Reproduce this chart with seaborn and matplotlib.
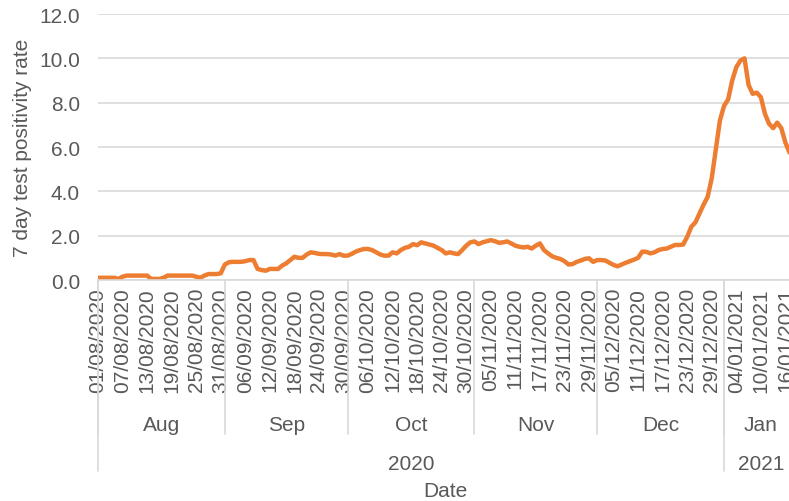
import seaborn as sns
import matplotlib.pyplot as plt
import matplotlib.transforms as mtransforms
import pandas as pd

sns.set_style(style="white")
plt.rcParams["font.family"] = ["Liberation Sans", "DejaVu Sans"]

# daily 7 day test positivity rate, 01/08/2020 - 17/01/2021
start_date = "2020-08-01"
axis_end = "2021-01-19"
rate = [
    # Aug
    0.1, 0.1, 0.1, 0.1, 0.1, 0.05, 0.15, 0.2, 0.2, 0.2,
    0.2, 0.2, 0.2, 0.05, 0.05, 0.05, 0.1, 0.2, 0.2, 0.2,
    0.2, 0.2, 0.2, 0.2, 0.15, 0.1, 0.2, 0.27, 0.27, 0.27,
    0.3,
    # Sep
    0.7, 0.8, 0.82, 0.82, 0.82, 0.85, 0.9, 0.9, 0.5, 0.45,
    0.42, 0.5, 0.5, 0.5, 0.65, 0.75, 0.9, 1.05, 1.0, 1.0,
    1.15, 1.25, 1.22, 1.18, 1.17, 1.17, 1.15, 1.1, 1.17, 1.1,
    # Oct
    1.1, 1.18, 1.28, 1.35, 1.4, 1.4, 1.35, 1.25, 1.15, 1.1,
    1.1, 1.25, 1.2, 1.35, 1.45, 1.5, 1.62, 1.57, 1.7, 1.65,
    1.6, 1.55, 1.45, 1.35, 1.2, 1.25, 1.2, 1.17, 1.35, 1.55,
    1.7,
    # Nov
    1.74, 1.62, 1.7, 1.75, 1.8, 1.75, 1.68, 1.7, 1.74, 1.65,
    1.55, 1.5, 1.47, 1.5, 1.42, 1.55, 1.65, 1.35, 1.2, 1.07,
    1.0, 0.95, 0.85, 0.7, 0.72, 0.82, 0.88, 0.95, 0.98, 0.82,
    # Dec
    0.9, 0.9, 0.88, 0.78, 0.68, 0.62, 0.7, 0.78, 0.85, 0.92,
    1.0, 1.28, 1.27, 1.2, 1.25, 1.35, 1.4, 1.42, 1.5, 1.58,
    1.58, 1.6, 1.95, 2.4, 2.6, 3.0, 3.4, 3.75, 4.6, 5.9,
    7.2,
    # Jan
    7.85, 8.15, 9.0, 9.6, 9.9, 10.0, 8.8, 8.4, 8.45, 8.25,
    7.5, 7.05, 6.85, 7.1, 6.85, 6.2, 5.75,
]

months = ["Aug", "Sep", "Oct", "Nov", "Dec", "Jan"]
month_starts = ["2020-08-01", "2020-09-01", "2020-10-01", "2020-11-01", "2020-12-01", "2021-01-01"]
years = ["2020", "2021"]
year_starts = ["2020-08-01", "2021-01-01"]
y_ticks = [0, 2, 4, 6, 8, 10, 12]

dates = pd.date_range(start_date, periods=len(rate), freq="D")
df = pd.DataFrame({"date": dates, "rate": rate})

text_col = "#595959"
grid_col = "#d9d9d9"
fs = 15

fig = plt.figure(figsize=(7.89, 5.02), dpi=100)
ax = fig.add_axes([0.1242, 0.4402, 0.8868, 0.5299])

sns.lineplot(data=df, x="date", y="rate", color="#ED7D31", linewidth=3.2, ax=ax)

ax.set_xlim(pd.Timestamp(start_date), pd.Timestamp(axis_end))
ax.set_ylim(0, 12)
ax.set_yticks(y_ticks)
ax.set_yticklabels([f"{v:.1f}" for v in y_ticks], fontsize=fs, color=text_col)
ax.yaxis.grid(True, color=grid_col, linewidth=1.2)
ax.xaxis.grid(False)
ax.tick_params(axis="y", length=0, pad=13)
ax.set_ylabel("7 day test positivity rate", fontsize=fs, color=text_col, labelpad=5)

tick_dates = dates[::6]
ax.set_xticks(tick_dates)
ax.set_xticklabels([d.strftime("%d/%m/%Y") for d in tick_dates], rotation=90,
                   fontsize=fs, color=text_col)
ax.tick_params(axis="x", length=0, pad=5)
ax.set_xlabel("")

for s in ["top", "right", "left"]:
    ax.spines[s].set_visible(False)
ax.spines["bottom"].set_color(grid_col)
ax.spines["bottom"].set_linewidth(1.2)

trans = mtransforms.blended_transform_factory(ax.transData, ax.transAxes)

# month level of the category axis
month_edges = [pd.Timestamp(m) for m in month_starts] + [pd.Timestamp(axis_end)]
for i, name in enumerate(months):
    ax.plot([month_edges[i], month_edges[i]], [0, -0.579], transform=trans,
            color=grid_col, linewidth=1.2, clip_on=False)
    mid = month_edges[i] + (month_edges[i + 1] - month_edges[i]) / 2
    ax.text(mid, -0.545, name, transform=trans, ha="center", va="center",
            fontsize=fs, color=text_col)

# year level
year_edges = [pd.Timestamp(y) for y in year_starts] + [pd.Timestamp(axis_end)]
for i, name in enumerate(years):
    ax.plot([year_edges[i], year_edges[i]], [0, -0.718], transform=trans,
            color=grid_col, linewidth=1.2, clip_on=False)
    mid = year_edges[i] + (year_edges[i + 1] - year_edges[i]) / 2
    ax.text(mid, -0.688, name, transform=trans, ha="center", va="center",
            fontsize=fs, color=text_col)

ax.text(0.497, -0.79, "Date", transform=ax.transAxes, ha="center", va="center",
        fontsize=fs, color=text_col)

fig.savefig("out.png", dpi=100)
